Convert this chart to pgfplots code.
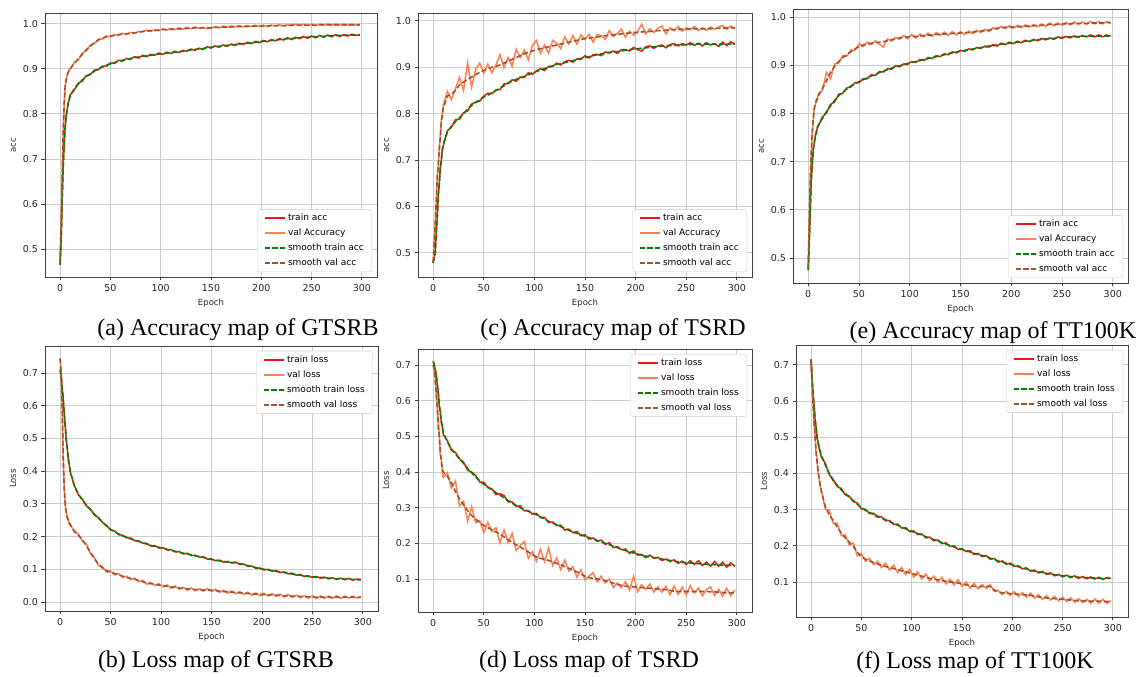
\documentclass[border=0pt]{standalone}
\usepackage{pgfplots}
\usepackage{pgfplotstable}
\pgfplotsset{compat=1.18}
\usepackage{fontspec}
\setmainfont{Liberation Serif}
\setsansfont{DejaVu Sans}
\definecolor{cTrain}{RGB}{240,20,20}
\definecolor{cVal}{RGB}{255,127,80}
\definecolor{cSTrain}{RGB}{0,128,0}
\definecolor{cSVal}{RGB}{160,82,45}

% GTSRB accuracy: x, train, val, smooth train, smooth val
\pgfplotstableread{
x tr va st sv
0 0.465 0.470 0.465 0.470
1 0.515 0.552 0.520 0.550
2 0.605 0.648 0.600 0.650
3 0.676 0.755 0.680 0.750
4 0.733 0.818 0.730 0.820
5 0.768 0.862 0.770 0.860
6 0.797 0.873 0.795 0.875
7 0.808 0.887 0.810 0.885
8 0.824 0.890 0.822 0.892
9 0.830 0.899 0.832 0.897
10 0.842 0.898 0.840 0.900
14 0.853 0.914 0.855 0.912
18 0.868 0.920 0.866 0.922
22 0.873 0.935 0.875 0.932
26 0.885 0.940 0.883 0.942
30 0.887 0.953 0.889 0.950
34 0.897 0.956 0.895 0.958
38 0.898 0.966 0.900 0.964
42 0.906 0.966 0.904 0.968
46 0.906 0.973 0.908 0.971
50 0.913 0.971 0.911 0.973
54 0.912 0.976 0.914 0.974
58 0.919 0.974 0.917 0.976
62 0.917 0.979 0.919 0.977
66 0.923 0.976 0.921 0.978
70 0.921 0.981 0.923 0.979
74 0.927 0.979 0.925 0.980
78 0.924 0.983 0.926 0.981
82 0.930 0.982 0.928 0.983
86 0.927 0.986 0.929 0.984
90 0.932 0.983 0.930 0.985
94 0.930 0.987 0.932 0.985
98 0.935 0.985 0.933 0.986
102 0.932 0.989 0.934 0.987
106 0.937 0.986 0.935 0.987
110 0.934 0.990 0.936 0.988
114 0.939 0.987 0.937 0.988
118 0.936 0.991 0.938 0.989
122 0.941 0.988 0.939 0.989
126 0.939 0.992 0.941 0.990
130 0.944 0.989 0.942 0.990
134 0.941 0.993 0.943 0.991
138 0.946 0.990 0.944 0.991
142 0.943 0.992 0.945 0.991
146 0.949 0.989 0.947 0.991
150 0.946 0.990 0.948 0.991
154 0.951 0.994 0.949 0.992
158 0.948 0.991 0.950 0.992
162 0.953 0.995 0.951 0.993
166 0.950 0.992 0.952 0.993
170 0.955 0.995 0.953 0.993
174 0.952 0.993 0.954 0.994
178 0.957 0.996 0.955 0.994
182 0.954 0.993 0.956 0.994
186 0.959 0.996 0.957 0.994
190 0.956 0.994 0.958 0.995
194 0.961 0.997 0.959 0.995
198 0.958 0.994 0.960 0.995
202 0.963 0.997 0.961 0.995
206 0.960 0.994 0.962 0.995
210 0.965 0.997 0.963 0.996
214 0.962 0.995 0.964 0.996
218 0.967 0.998 0.965 0.996
222 0.964 0.995 0.966 0.996
226 0.969 0.998 0.967 0.996
230 0.965 0.996 0.967 0.997
234 0.970 0.999 0.968 0.997
238 0.967 0.996 0.969 0.997
242 0.972 0.999 0.970 0.997
246 0.968 0.996 0.970 0.997
250 0.973 0.999 0.971 0.997
254 0.969 0.996 0.971 0.997
258 0.974 0.999 0.972 0.998
262 0.970 0.997 0.972 0.998
266 0.975 0.999 0.973 0.998
270 0.971 0.997 0.973 0.998
274 0.976 0.999 0.974 0.998
278 0.972 0.997 0.974 0.998
282 0.976 0.999 0.974 0.998
286 0.973 0.997 0.975 0.998
290 0.977 0.999 0.975 0.998
294 0.974 0.997 0.975 0.998
298 0.976 0.998 0.975 0.998
}\tA

% TSRD accuracy
\pgfplotstableread{
x tr va st sv
0 0.478 0.480 0.478 0.480
1 0.492 0.515 0.490 0.520
2 0.498 0.565 0.500 0.560
3 0.545 0.605 0.540 0.610
4 0.575 0.668 0.580 0.660
5 0.625 0.685 0.620 0.690
6 0.646 0.728 0.650 0.720
7 0.684 0.745 0.680 0.750
8 0.697 0.786 0.700 0.780
9 0.724 0.795 0.720 0.800
10 0.731 0.818 0.735 0.812
14 0.763 0.848 0.760 0.838
18 0.771 0.830 0.773 0.842
22 0.787 0.854 0.783 0.850
26 0.788 0.878 0.791 0.862
30 0.802 0.850 0.800 0.868
34 0.806 0.909 0.810 0.874
38 0.821 0.857 0.818 0.879
42 0.825 0.896 0.824 0.884
46 0.827 0.909 0.830 0.889
50 0.838 0.887 0.836 0.893
54 0.844 0.907 0.840 0.897
58 0.843 0.888 0.845 0.900
62 0.851 0.905 0.850 0.902
66 0.852 0.927 0.855 0.905
70 0.864 0.899 0.860 0.909
74 0.865 0.921 0.866 0.913
78 0.873 0.902 0.870 0.917
82 0.870 0.939 0.874 0.921
86 0.879 0.921 0.877 0.925
90 0.878 0.937 0.880 0.929
94 0.888 0.916 0.884 0.932
98 0.885 0.947 0.888 0.935
102 0.892 0.958 0.891 0.938
106 0.897 0.930 0.894 0.940
110 0.893 0.948 0.897 0.942
114 0.902 0.930 0.900 0.944
118 0.902 0.958 0.903 0.946
122 0.909 0.952 0.906 0.948
126 0.905 0.940 0.908 0.950
130 0.912 0.966 0.910 0.952
134 0.915 0.950 0.912 0.954
138 0.911 0.968 0.914 0.956
142 0.918 0.950 0.917 0.958
146 0.917 0.970 0.919 0.960
150 0.925 0.960 0.921 0.962
154 0.920 0.971 0.923 0.963
158 0.927 0.954 0.925 0.964
162 0.928 0.971 0.927 0.965
166 0.925 0.968 0.929 0.967
170 0.933 0.960 0.930 0.968
174 0.931 0.979 0.932 0.969
178 0.935 0.966 0.933 0.970
182 0.930 0.973 0.934 0.971
186 0.938 0.982 0.935 0.972
190 0.938 0.965 0.937 0.973
194 0.935 0.978 0.938 0.974
198 0.943 0.969 0.939 0.975
202 0.938 0.977 0.940 0.975
206 0.935 0.993 0.941 0.976
210 0.944 0.972 0.942 0.977
214 0.946 0.983 0.943 0.977
218 0.941 0.975 0.944 0.978
222 0.946 0.984 0.945 0.979
226 0.948 0.989 0.945 0.979
230 0.942 0.972 0.946 0.980
234 0.949 0.985 0.947 0.981
238 0.951 0.979 0.947 0.981
242 0.946 0.988 0.948 0.982
246 0.951 0.978 0.948 0.982
250 0.948 0.985 0.949 0.982
254 0.953 0.981 0.949 0.983
258 0.947 0.988 0.950 0.983
262 0.952 0.979 0.950 0.983
266 0.946 0.985 0.950 0.983
270 0.953 0.980 0.950 0.983
274 0.948 0.987 0.950 0.983
278 0.951 0.982 0.950 0.984
282 0.945 0.987 0.950 0.984
286 0.954 0.990 0.950 0.984
290 0.947 0.982 0.950 0.985
294 0.955 0.989 0.950 0.985
298 0.949 0.983 0.951 0.985
}\tC

% TT100K accuracy
\pgfplotstableread{
x tr va st sv
0 0.475 0.480 0.475 0.480
1 0.535 0.575 0.530 0.580
2 0.597 0.665 0.600 0.660
3 0.663 0.715 0.660 0.720
4 0.697 0.764 0.700 0.760
5 0.728 0.786 0.725 0.790
6 0.738 0.814 0.740 0.810
7 0.755 0.817 0.752 0.820
8 0.760 0.830 0.762 0.826
9 0.772 0.828 0.770 0.832
10 0.774 0.841 0.776 0.837
14 0.793 0.848 0.790 0.852
18 0.801 0.885 0.804 0.868
22 0.819 0.872 0.816 0.885
26 0.824 0.903 0.827 0.898
30 0.840 0.905 0.837 0.908
34 0.842 0.920 0.844 0.916
38 0.853 0.919 0.851 0.922
42 0.855 0.932 0.857 0.928
46 0.864 0.931 0.862 0.934
50 0.864 0.945 0.866 0.939
54 0.872 0.939 0.870 0.942
58 0.872 0.948 0.874 0.944
62 0.880 0.943 0.878 0.946
66 0.879 0.951 0.881 0.947
70 0.887 0.944 0.885 0.948
74 0.886 0.938 0.888 0.949
78 0.893 0.955 0.891 0.951
82 0.892 0.950 0.894 0.953
86 0.899 0.958 0.897 0.955
90 0.897 0.954 0.899 0.957
94 0.903 0.962 0.901 0.958
98 0.902 0.955 0.904 0.959
102 0.908 0.964 0.906 0.960
106 0.906 0.956 0.908 0.960
110 0.912 0.965 0.910 0.961
114 0.910 0.959 0.912 0.962
118 0.916 0.967 0.914 0.963
122 0.914 0.960 0.916 0.963
126 0.920 0.968 0.918 0.964
130 0.918 0.962 0.920 0.965
134 0.924 0.969 0.922 0.965
138 0.922 0.962 0.924 0.966
142 0.928 0.970 0.926 0.966
146 0.926 0.963 0.928 0.967
150 0.931 0.970 0.929 0.967
154 0.929 0.964 0.931 0.968
158 0.934 0.971 0.932 0.968
162 0.932 0.966 0.934 0.969
166 0.937 0.973 0.935 0.970
170 0.935 0.968 0.937 0.971
174 0.940 0.975 0.938 0.972
178 0.938 0.970 0.940 0.973
182 0.943 0.978 0.941 0.975
186 0.940 0.975 0.942 0.977
190 0.946 0.981 0.944 0.978
194 0.943 0.976 0.945 0.979
198 0.948 0.982 0.946 0.979
202 0.945 0.977 0.947 0.980
206 0.950 0.983 0.948 0.980
210 0.947 0.978 0.949 0.981
214 0.952 0.984 0.950 0.981
218 0.949 0.979 0.951 0.982
222 0.954 0.985 0.952 0.982
226 0.951 0.980 0.953 0.983
230 0.956 0.986 0.954 0.983
234 0.953 0.981 0.955 0.984
238 0.957 0.988 0.955 0.985
242 0.954 0.982 0.956 0.985
246 0.959 0.988 0.957 0.985
250 0.956 0.983 0.958 0.986
254 0.960 0.989 0.958 0.986
258 0.957 0.984 0.959 0.986
262 0.961 0.990 0.959 0.987
266 0.958 0.985 0.960 0.987
270 0.962 0.990 0.960 0.987
274 0.959 0.985 0.960 0.987
278 0.963 0.991 0.961 0.988
282 0.959 0.986 0.961 0.988
286 0.963 0.991 0.961 0.988
290 0.959 0.986 0.961 0.988
294 0.963 0.991 0.961 0.989
298 0.961 0.988 0.961 0.988
}\tE

% GTSRB loss
\pgfplotstableread{
x tr va st sv
0 0.710 0.745 0.710 0.745
1 0.692 0.697 0.690 0.700
2 0.657 0.604 0.660 0.600
3 0.624 0.446 0.620 0.450
4 0.577 0.354 0.580 0.350
5 0.543 0.297 0.540 0.300
6 0.498 0.279 0.500 0.275
7 0.472 0.257 0.470 0.260
8 0.438 0.254 0.440 0.250
9 0.422 0.238 0.420 0.242
10 0.398 0.239 0.400 0.235
14 0.357 0.213 0.355 0.218
18 0.328 0.209 0.330 0.204
22 0.314 0.186 0.312 0.190
26 0.294 0.177 0.296 0.172
30 0.284 0.148 0.282 0.152
34 0.266 0.136 0.268 0.132
38 0.258 0.112 0.256 0.116
42 0.243 0.108 0.245 0.104
46 0.234 0.091 0.232 0.096
50 0.220 0.095 0.222 0.091
54 0.217 0.083 0.215 0.087
58 0.206 0.087 0.208 0.083
62 0.204 0.075 0.202 0.079
66 0.196 0.079 0.198 0.075
70 0.195 0.068 0.193 0.072
74 0.187 0.073 0.189 0.069
78 0.187 0.062 0.185 0.066
82 0.179 0.066 0.181 0.062
86 0.179 0.054 0.177 0.058
90 0.171 0.060 0.173 0.056
94 0.172 0.050 0.170 0.054
98 0.165 0.056 0.167 0.052
102 0.166 0.046 0.164 0.050
106 0.159 0.052 0.161 0.048
110 0.160 0.042 0.158 0.046
114 0.153 0.049 0.155 0.045
118 0.154 0.039 0.152 0.043
122 0.147 0.045 0.149 0.041
126 0.149 0.036 0.147 0.040
130 0.142 0.043 0.144 0.039
134 0.143 0.034 0.141 0.038
138 0.137 0.041 0.139 0.037
142 0.138 0.033 0.136 0.037
146 0.131 0.041 0.133 0.037
150 0.132 0.032 0.130 0.036
154 0.126 0.039 0.128 0.035
158 0.128 0.029 0.126 0.033
162 0.122 0.036 0.124 0.032
166 0.124 0.027 0.122 0.031
170 0.119 0.034 0.121 0.030
174 0.122 0.025 0.120 0.029
178 0.115 0.032 0.117 0.028
182 0.116 0.023 0.114 0.027
186 0.109 0.030 0.111 0.026
190 0.110 0.021 0.108 0.025
194 0.103 0.028 0.105 0.024
198 0.104 0.019 0.102 0.023
202 0.098 0.027 0.100 0.023
206 0.100 0.018 0.098 0.022
210 0.094 0.026 0.096 0.022
214 0.096 0.017 0.094 0.021
218 0.090 0.024 0.092 0.020
222 0.092 0.015 0.090 0.019
226 0.086 0.023 0.088 0.019
230 0.088 0.014 0.086 0.018
234 0.082 0.021 0.084 0.017
238 0.084 0.013 0.082 0.017
242 0.078 0.020 0.080 0.016
246 0.080 0.012 0.078 0.016
250 0.075 0.019 0.077 0.015
254 0.078 0.011 0.076 0.015
258 0.073 0.019 0.075 0.015
262 0.076 0.011 0.074 0.015
266 0.071 0.018 0.073 0.015
270 0.074 0.011 0.072 0.014
274 0.069 0.019 0.071 0.015
278 0.073 0.011 0.071 0.015
282 0.068 0.018 0.070 0.015
286 0.072 0.012 0.070 0.015
290 0.067 0.018 0.069 0.015
294 0.070 0.012 0.068 0.015
298 0.069 0.016 0.068 0.015
}\tB

% TSRD loss
\pgfplotstableread{
x tr va st sv
0 0.710 0.700 0.710 0.700
1 0.703 0.685 0.700 0.690
2 0.686 0.668 0.690 0.660
3 0.674 0.612 0.670 0.620
4 0.645 0.595 0.650 0.580
5 0.626 0.525 0.620 0.540
6 0.585 0.510 0.590 0.500
7 0.570 0.448 0.565 0.460
8 0.540 0.440 0.545 0.430
9 0.530 0.398 0.525 0.410
10 0.505 0.385 0.510 0.400
14 0.488 0.398 0.485 0.388
18 0.461 0.355 0.465 0.370
22 0.455 0.375 0.450 0.345
26 0.436 0.305 0.438 0.325
30 0.428 0.318 0.424 0.308
34 0.405 0.262 0.410 0.292
38 0.400 0.303 0.398 0.278
42 0.390 0.258 0.386 0.268
46 0.372 0.264 0.375 0.258
50 0.371 0.230 0.366 0.250
54 0.356 0.259 0.358 0.244
58 0.353 0.233 0.350 0.238
62 0.337 0.244 0.342 0.232
66 0.339 0.201 0.335 0.226
70 0.334 0.238 0.328 0.218
74 0.316 0.202 0.320 0.210
78 0.316 0.228 0.313 0.203
82 0.304 0.180 0.306 0.196
86 0.305 0.194 0.300 0.190
90 0.291 0.205 0.295 0.183
94 0.292 0.158 0.290 0.176
98 0.282 0.176 0.285 0.168
102 0.284 0.150 0.280 0.162
106 0.272 0.183 0.274 0.158
110 0.273 0.149 0.268 0.155
114 0.258 0.187 0.262 0.152
118 0.260 0.138 0.257 0.148
122 0.250 0.159 0.252 0.144
126 0.251 0.126 0.247 0.140
130 0.237 0.153 0.242 0.135
134 0.240 0.122 0.237 0.130
138 0.230 0.135 0.232 0.125
142 0.233 0.105 0.228 0.120
146 0.221 0.126 0.224 0.114
150 0.224 0.098 0.220 0.108
154 0.212 0.108 0.216 0.104
158 0.215 0.118 0.212 0.102
162 0.206 0.092 0.208 0.100
166 0.209 0.108 0.204 0.098
170 0.197 0.089 0.200 0.095
174 0.202 0.100 0.196 0.092
178 0.188 0.076 0.192 0.088
182 0.191 0.089 0.188 0.085
186 0.182 0.076 0.184 0.082
190 0.184 0.092 0.180 0.080
194 0.172 0.069 0.176 0.079
198 0.179 0.108 0.173 0.078
202 0.167 0.065 0.170 0.077
206 0.169 0.084 0.167 0.076
210 0.160 0.071 0.164 0.075
214 0.167 0.086 0.162 0.074
218 0.158 0.063 0.160 0.073
222 0.161 0.078 0.158 0.072
226 0.152 0.063 0.156 0.071
230 0.156 0.080 0.154 0.070
234 0.149 0.056 0.152 0.068
238 0.154 0.080 0.150 0.066
242 0.144 0.057 0.148 0.065
246 0.150 0.077 0.147 0.065
250 0.141 0.055 0.146 0.065
254 0.151 0.081 0.145 0.065
258 0.141 0.061 0.144 0.065
262 0.151 0.075 0.143 0.065
266 0.138 0.053 0.142 0.065
270 0.147 0.071 0.141 0.065
274 0.136 0.078 0.141 0.064
278 0.149 0.054 0.140 0.064
282 0.136 0.071 0.140 0.063
286 0.147 0.052 0.139 0.062
290 0.133 0.074 0.139 0.062
294 0.145 0.053 0.138 0.061
298 0.136 0.070 0.138 0.062
}\tD

% TT100K loss
\pgfplotstableread{
x tr va st sv
0 0.715 0.710 0.715 0.710
1 0.664 0.645 0.660 0.650
2 0.617 0.595 0.620 0.590
3 0.588 0.535 0.585 0.540
4 0.547 0.505 0.550 0.500
5 0.528 0.455 0.525 0.460
6 0.497 0.436 0.500 0.430
7 0.488 0.400 0.485 0.405
8 0.469 0.390 0.472 0.385
9 0.463 0.362 0.460 0.368
10 0.447 0.358 0.450 0.352
14 0.428 0.302 0.425 0.310
18 0.397 0.298 0.400 0.285
22 0.383 0.262 0.380 0.270
26 0.364 0.262 0.367 0.252
30 0.358 0.228 0.355 0.235
34 0.341 0.230 0.344 0.222
38 0.337 0.202 0.334 0.210
42 0.322 0.208 0.325 0.198
46 0.318 0.172 0.315 0.182
50 0.302 0.178 0.305 0.170
54 0.301 0.157 0.298 0.163
58 0.289 0.165 0.292 0.158
62 0.290 0.148 0.287 0.154
66 0.279 0.157 0.282 0.150
70 0.280 0.140 0.277 0.146
74 0.269 0.152 0.272 0.143
78 0.270 0.133 0.267 0.140
82 0.259 0.146 0.262 0.137
86 0.260 0.126 0.257 0.134
90 0.249 0.140 0.252 0.131
94 0.250 0.120 0.247 0.128
98 0.239 0.135 0.242 0.125
102 0.241 0.113 0.238 0.122
106 0.231 0.128 0.234 0.119
110 0.233 0.108 0.230 0.116
114 0.222 0.122 0.225 0.113
118 0.224 0.103 0.221 0.110
122 0.214 0.116 0.217 0.108
126 0.216 0.099 0.213 0.106
130 0.206 0.113 0.209 0.104
134 0.208 0.095 0.205 0.102
138 0.198 0.108 0.201 0.100
142 0.200 0.092 0.197 0.099
146 0.190 0.106 0.193 0.097
150 0.192 0.088 0.190 0.095
154 0.184 0.100 0.187 0.092
158 0.186 0.083 0.183 0.090
162 0.176 0.096 0.179 0.088
166 0.179 0.081 0.176 0.087
170 0.170 0.093 0.173 0.087
174 0.173 0.082 0.170 0.088
178 0.163 0.093 0.166 0.087
182 0.165 0.074 0.162 0.078
186 0.155 0.077 0.158 0.072
190 0.158 0.065 0.155 0.070
194 0.149 0.074 0.152 0.069
198 0.152 0.063 0.149 0.068
202 0.143 0.073 0.146 0.067
206 0.145 0.060 0.142 0.066
210 0.136 0.071 0.139 0.065
214 0.139 0.058 0.136 0.064
218 0.130 0.069 0.133 0.063
222 0.133 0.055 0.130 0.061
226 0.125 0.065 0.128 0.059
230 0.129 0.052 0.126 0.057
234 0.121 0.062 0.124 0.056
238 0.125 0.050 0.122 0.055
242 0.117 0.060 0.120 0.054
246 0.121 0.048 0.118 0.053
250 0.114 0.058 0.117 0.052
254 0.119 0.046 0.116 0.051
258 0.112 0.056 0.115 0.050
262 0.117 0.044 0.114 0.049
266 0.110 0.054 0.113 0.048
270 0.115 0.043 0.112 0.048
274 0.109 0.052 0.112 0.047
278 0.114 0.041 0.111 0.047
282 0.108 0.053 0.111 0.047
286 0.113 0.041 0.110 0.047
290 0.107 0.052 0.110 0.046
294 0.112 0.041 0.110 0.046
298 0.110 0.048 0.110 0.047
}\tF

\pgfplotsset{
  mpl/.style={
    scale only axis,
    xmin=-15, xmax=315,
    xtick={0,50,100,150,200,250,300},
    grid=major,
    grid style={line width=0.9pt, draw=black!20},
    axis line style={line width=0.9pt, draw=black!75},
    tick align=outside, tick pos=left,
    major tick length=3.5pt,
    every tick/.style={line width=0.9pt, black!75},
    /pgf/number format/assume math mode=true,
    ticklabel style={font=\sffamily\fontsize{9.5}{11}\selectfont, text=black!85},
    y tick label style={/pgf/number format/.cd, fixed, fixed zerofill, precision=1, /tikz/.cd},
    label style={font=\sffamily\fontsize{8.5}{10}\selectfont, text=black!85},
    xlabel={Epoch},
    xlabel style={yshift=-1pt},
    legend cell align=left,
    legend style={font=\sffamily\fontsize{9}{11}\selectfont, draw=black!20, rounded corners=2pt,
      fill=white, inner xsep=6pt, inner ysep=2.5pt, row sep=2.6pt},
    legend image code/.code={\draw[mark repeat=2,mark phase=2,##1] plot coordinates {(0pt,0pt) (10pt,0pt) (20pt,0pt)};},
    legend image post style={line width=2.3pt},
  },
  accleg/.style={legend style={at={(1,0)}, anchor=south east, xshift=-5pt, yshift=5pt}},
  lossleg/.style={legend style={at={(1,1)}, anchor=north east, xshift=-5pt, yshift=-5pt}},
  trs/.style={cTrain, line width=1.5pt},
  vas/.style={cVal, line width=1.5pt},
  sts/.style={cSTrain, line width=1.6pt, dash pattern=on 5pt off 2.5pt},
  svs/.style={cSVal, line width=1.6pt, dash pattern=on 5pt off 2.5pt},
}

\begin{document}
\begin{tikzpicture}[x=1pt,y=1pt]
\fill[white] (0,0) rectangle (1146,677);
\useasboundingbox (0,0) rectangle (1146,677);

% (a)
\begin{axis}[mpl, accleg, at={(45pt,400pt)}, anchor=south west, width=332pt, height=264pt,
  ymin=0.438, ymax=1.024, ytick={0.5,0.6,0.7,0.8,0.9,1.0}, ylabel={acc}]
\addplot[trs] table[x=x,y=tr]{\tA}; \addlegendentry{train acc}
\addplot[vas] table[x=x,y=va]{\tA}; \addlegendentry{val Accuracy}
\addplot[sts] table[x=x,y=st]{\tA}; \addlegendentry{smooth train acc}
\addplot[svs] table[x=x,y=sv]{\tA}; \addlegendentry{smooth val acc}
\end{axis}

% (c)
\begin{axis}[mpl, accleg, at={(418pt,400pt)}, anchor=south west, width=334pt, height=264pt,
  ymin=0.448, ymax=1.017, ytick={0.5,0.6,0.7,0.8,0.9,1.0}, ylabel={acc}]
\addplot[trs] table[x=x,y=tr]{\tC}; \addlegendentry{train acc}
\addplot[vas] table[x=x,y=va]{\tC}; \addlegendentry{val Accuracy}
\addplot[sts] table[x=x,y=st]{\tC}; \addlegendentry{smooth train acc}
\addplot[svs] table[x=x,y=sv]{\tC}; \addlegendentry{smooth val acc}
\end{axis}

% (e)
\begin{axis}[mpl, accleg, at={(793pt,394pt)}, anchor=south west, width=335pt, height=274pt,
  ymin=0.448, ymax=1.017, ytick={0.5,0.6,0.7,0.8,0.9,1.0}, ylabel={acc}]
\addplot[trs] table[x=x,y=tr]{\tE}; \addlegendentry{train acc}
\addplot[vas] table[x=x,y=va]{\tE}; \addlegendentry{val Accuracy}
\addplot[sts] table[x=x,y=st]{\tE}; \addlegendentry{smooth train acc}
\addplot[svs] table[x=x,y=sv]{\tE}; \addlegendentry{smooth val acc}
\end{axis}

% (b)
\begin{axis}[mpl, lossleg, at={(45pt,66pt)}, anchor=south west, width=333pt, height=265pt,
  ymin=-0.0275, ymax=0.7826, ytick={0,0.1,0.2,0.3,0.4,0.5,0.6,0.7}, ylabel={Loss}]
\addplot[trs] table[x=x,y=tr]{\tB}; \addlegendentry{train loss}
\addplot[vas] table[x=x,y=va]{\tB}; \addlegendentry{val loss}
\addplot[sts] table[x=x,y=st]{\tB}; \addlegendentry{smooth train loss}
\addplot[svs] table[x=x,y=sv]{\tB}; \addlegendentry{smooth val loss}
\end{axis}

% (d)
\begin{axis}[mpl, lossleg, at={(418pt,65pt)}, anchor=south west, width=334pt, height=263pt,
  ymin=0.0075, ymax=0.745, ytick={0.1,0.2,0.3,0.4,0.5,0.6,0.7}, ylabel={Loss}]
\addplot[trs] table[x=x,y=tr]{\tD}; \addlegendentry{train loss}
\addplot[vas] table[x=x,y=va]{\tD}; \addlegendentry{val loss}
\addplot[sts] table[x=x,y=st]{\tD}; \addlegendentry{smooth train loss}
\addplot[svs] table[x=x,y=sv]{\tD}; \addlegendentry{smooth val loss}
\end{axis}

% (f)
\begin{axis}[mpl, lossleg, at={(796pt,60pt)}, anchor=south west, width=332pt, height=272pt,
  ymin=0.0032, ymax=0.755, ytick={0.1,0.2,0.3,0.4,0.5,0.6,0.7}, ylabel={Loss}]
\addplot[trs] table[x=x,y=tr]{\tF}; \addlegendentry{train loss}
\addplot[vas] table[x=x,y=va]{\tF}; \addlegendentry{val loss}
\addplot[sts] table[x=x,y=st]{\tF}; \addlegendentry{smooth train loss}
\addplot[svs] table[x=x,y=sv]{\tF}; \addlegendentry{smooth val loss}
\end{axis}

\begin{scope}[font=\fontsize{24}{27}\selectfont]
\node at (238,347) {(a) Accuracy map of GTSRB};
\node at (613,347) {(c) Accuracy map of TSRD};
\node at (993,344) {(e) Accuracy map of TT100K};
\node at (216,15) {(b) Loss map of GTSRB};
\node at (589,15) {(d) Loss map of TSRD};
\node at (975,14) {(f) Loss map of TT100K};
\end{scope}
\end{tikzpicture}
\end{document}
